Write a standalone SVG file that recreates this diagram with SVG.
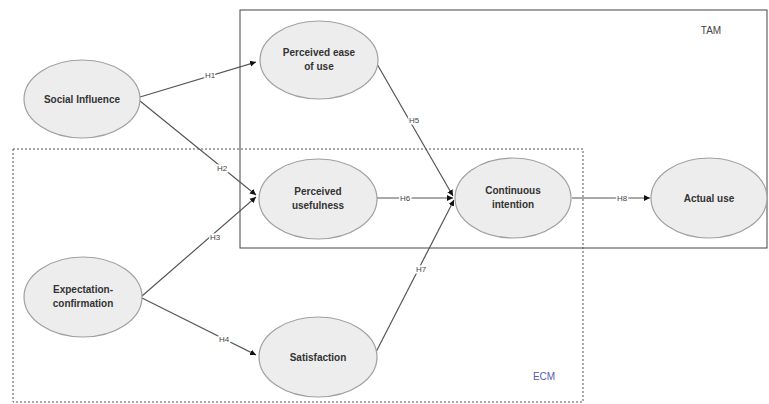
<svg xmlns="http://www.w3.org/2000/svg" width="769" height="404" viewBox="0 0 769 404">
<style>
.node ellipse{fill:#ededed;stroke:#a0a0a0;stroke-width:1.2}
.node text{font-family:"Liberation Sans",Arial,sans-serif;font-size:10px;font-weight:bold;fill:#333;text-anchor:middle}
.edge{stroke:#555;stroke-width:1.2;fill:none;marker-end:url(#ah)}
.lbl{font-family:"Liberation Sans",Arial,sans-serif;font-size:8px;fill:#444;text-anchor:middle;stroke:#fff;stroke-width:3;paint-order:stroke}
.box{font-family:"Liberation Sans",Arial,sans-serif;font-size:10px}
</style>
<defs>
<marker id="ah" markerWidth="7" markerHeight="7" refX="6" refY="3.5" orient="auto" markerUnits="userSpaceOnUse">
<path d="M0,0.5 L6,3.5 L0,6.5 Z" fill="#111"/>
</marker>
</defs>
<rect width="769" height="404" fill="#fff"/>
<g id="tam">
<rect x="240" y="10" width="527" height="238" fill="none" stroke="#444" stroke-width="1"/>
<text class="box" x="711" y="34" text-anchor="middle" fill="#444">TAM</text>
</g>
<g id="ecm">
<rect x="13" y="149" width="570" height="253" fill="none" stroke="#555" stroke-width="1" stroke-dasharray="2,2"/>
<text class="box" x="544" y="380" text-anchor="middle" fill="#5a5ab0">ECM</text>
</g>
<g id="connectors">
<path class="edge" d="M140,97 L256,62"/>
<path class="edge" d="M140,101 L256,195"/>
<path class="edge" d="M142,296 L256,197"/>
<path class="edge" d="M142,298 L256,355"/>
<path class="edge" d="M377,64 L453,196"/>
<path class="edge" d="M377,198 L453,198"/>
<path class="edge" d="M376,352 L454,200"/>
<path class="edge" d="M572,198 L650,198"/>
<text class="lbl" x="210" y="78">H1</text>
<text class="lbl" x="222" y="171">H2</text>
<text class="lbl" x="215" y="240">H3</text>
<text class="lbl" x="224" y="342">H4</text>
<text class="lbl" x="414" y="123">H5</text>
<text class="lbl" x="405" y="201">H6</text>
<text class="lbl" x="421" y="272">H7</text>
<text class="lbl" x="622" y="201">H8</text>
</g>
<g id="social" class="node"><ellipse cx="82" cy="99" rx="58" ry="39"/><text x="82" y="103">Social Influence</text></g>
<g id="peou" class="node"><ellipse cx="319" cy="60" rx="59" ry="39"/><text x="319" y="56">Perceived ease</text><text x="319" y="70">of use</text></g>
<g id="pu" class="node"><ellipse cx="318" cy="199" rx="59" ry="40"/><text x="318" y="195">Perceived</text><text x="318" y="209">usefulness</text></g>
<g id="ci" class="node"><ellipse cx="513" cy="198" rx="58" ry="40"/><text x="513" y="194">Continuous</text><text x="513" y="208">intention</text></g>
<g id="au" class="node"><ellipse cx="709" cy="198" rx="58" ry="40"/><text x="709" y="202">Actual use</text></g>
<g id="ec" class="node"><ellipse cx="83" cy="297" rx="59" ry="40"/><text x="83" y="293">Expectation-</text><text x="83" y="307">confirmation</text></g>
<g id="sat" class="node"><ellipse cx="318" cy="357" rx="59" ry="40"/><text x="318" y="361">Satisfaction</text></g>
</svg>
